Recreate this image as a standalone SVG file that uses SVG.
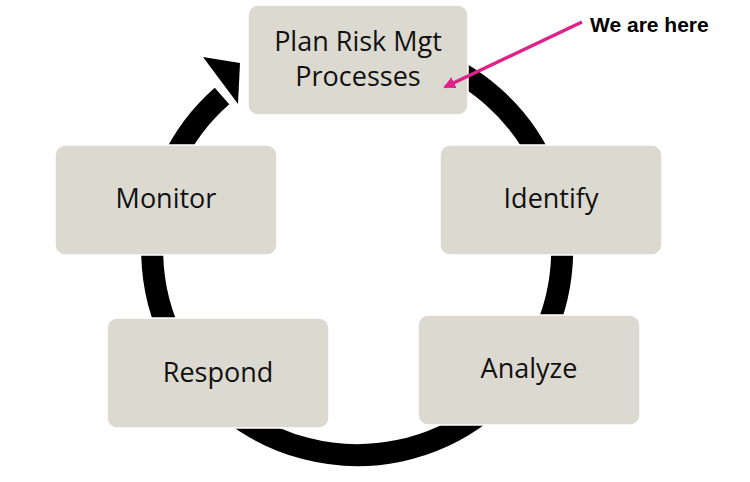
<svg xmlns="http://www.w3.org/2000/svg" width="750" height="482" viewBox="0 0 750 482">
<style>
.box{fill:#dcd9d0;stroke:#ffffff;stroke-width:1.5}
.t{font-family:"Open Sans","Liberation Sans",sans-serif;font-size:27px;fill:#111;text-anchor:middle}
</style>
<defs><marker id="pk" markerWidth="12" markerHeight="12" refX="10" refY="6" orient="auto" markerUnits="userSpaceOnUse"><path d="M0,0 L12,6 L0,12 z" fill="#e0218a"/></marker></defs>
<rect width="750" height="482" fill="#fff"/>
<g id="connectors">
<path d="M222,96 A205,205 0 1 0 420,55" fill="none" stroke="#000" stroke-width="22"/>
<polygon points="240,63 203,57 238,104" fill="#000"/>
</g>
<g id="plan"><rect class="box" x="248" y="5" width="220" height="110" rx="10"/><text class="t" x="358" y="51">Plan Risk Mgt</text><text class="t" x="358" y="86">Processes</text></g>
<g id="monitor"><rect class="box" x="55" y="145" width="222" height="110" rx="10"/><text class="t" x="166" y="208">Monitor</text></g>
<g id="identify"><rect class="box" x="440" y="145" width="222" height="110" rx="10"/><text class="t" x="551" y="208">Identify</text></g>
<g id="respond"><rect class="box" x="107" y="318" width="222" height="110" rx="10"/><text class="t" x="218" y="382">Respond</text></g>
<g id="analyze"><rect class="box" x="418" y="315" width="222" height="110" rx="10"/><text class="t" x="529" y="378">Analyze</text></g>
<g id="pointer"><line x1="582" y1="22" x2="445" y2="87" stroke="#e0218a" stroke-width="3.5" marker-end="url(#pk)"/></g>
<g id="label"><text x="590" y="32" font-family="Liberation Sans,sans-serif" font-size="21" font-weight="bold" fill="#000">We are here</text></g>
</svg>
